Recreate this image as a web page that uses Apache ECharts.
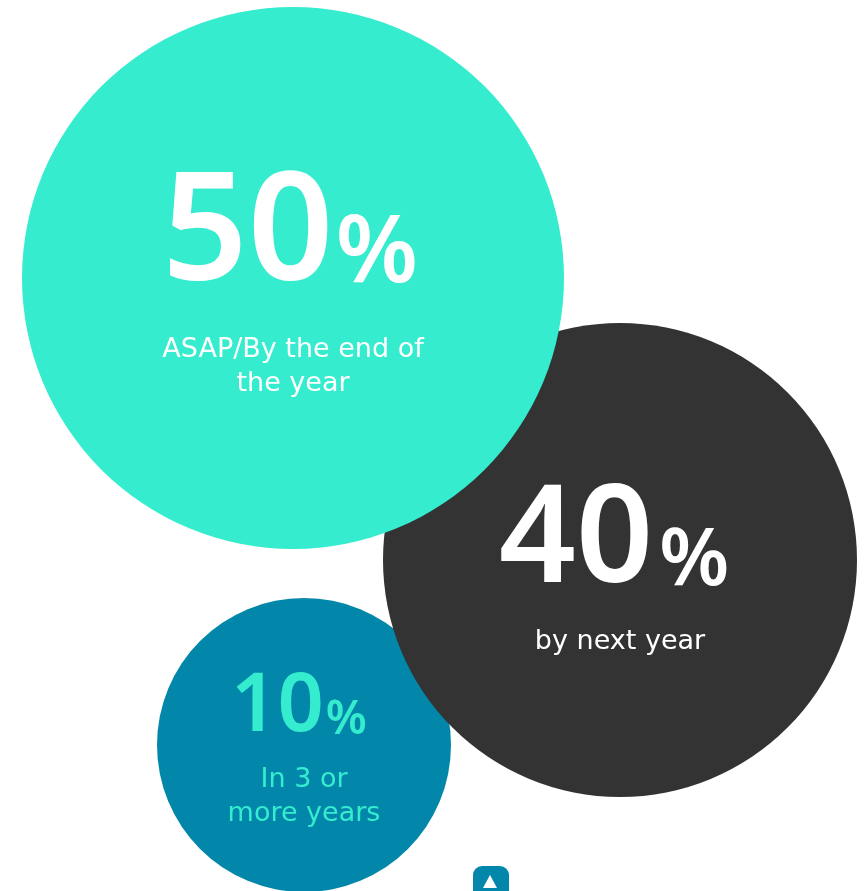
<!DOCTYPE html>
<html>
<head>
<meta charset="utf-8">
<script src="https://cdn.jsdelivr.net/npm/echarts@6/dist/echarts.min.js"></script>
<style>
  html, body { margin: 0; padding: 0; background: #ffffff; }
  #chart { width: 865px; height: 891px; }
</style>
</head>
<body>
<div id="chart"></div>
<script>
// ---- data ----
const categories = ['ASAP/By the end of the year', 'By next year', 'In 3 or more years'];
const shares = [50, 40, 10];
const descLines = [['ASAP/By the end of', 'the year'], ['by next year'], ['In 3 or', 'more years']];

// ---- layout (positions / sizes in pixel-space units of the hidden axes) ----
const layoutX = [293, 620, 304];
const layoutY = [278, 560, 745];
const layoutR = [271, 237, 147];
const labelShiftY = [14, 17, 10];
const fills = ['#35ECCF', '#333333', '#0287AB'];
const textColors = ['#ffffff', '#ffffff', '#35ECCF'];
const numSizes = [150, 135, 81];
const pctSizes = [94, 80, 47];
const pctPadL = [2, 6, 2];
const pctPadR = [6, 12, 10];
const pctLift = [10, 9, 5];
const gaps = [20, 14, 14];
const descSize = 27;

const NUMFONT = '"Noto Sans", Lato, sans-serif';
const DESCFONT = '"DejaVu Sans", "Noto Sans", sans-serif';

// draw order: smallest (bottom) first, largest teal on top
const order = [2, 1, 0];

const seriesList = order.map(function (i, k) {
  return {
    type: 'scatter',
    z: 2 + k,
    symbol: 'circle',
    symbolSize: layoutR[i] * 2,
    itemStyle: { color: fills[i], opacity: 1 },
    emphasis: { disabled: true },
    silent: true,
    label: {
      show: true,
      position: 'inside',
      align: 'center',
      verticalAlign: 'middle',
      offset: [0, labelShiftY[i]],
      formatter: function () {
        const d = descLines[i].map(function (l) { return '{desc|' + l + '}'; }).join('\n');
        return '{num|' + shares[i] + '}{pct|%}\n{gap|}\n' + d;
      },
      rich: {
        num: {
          fontFamily: NUMFONT, fontSize: numSizes[i], fontWeight: 600,
          color: textColors[i], lineHeight: numSizes[i] * 0.86, verticalAlign: 'bottom'
        },
        pct: {
          fontFamily: NUMFONT, fontSize: pctSizes[i], fontWeight: 600,
          color: textColors[i], lineHeight: pctSizes[i] * 0.6, verticalAlign: 'bottom',
          padding: [0, pctPadR[i], pctLift[i], pctPadL[i]]
        },
        gap: { fontSize: 10, lineHeight: gaps[i] },
        desc: {
          fontFamily: DESCFONT, fontSize: descSize, fontWeight: 'normal',
          color: textColors[i], lineHeight: 34, align: 'center'
        }
      }
    },
    data: [[layoutX[i], layoutY[i], shares[i], categories[i]]]
  };
});

const chart = echarts.init(document.getElementById('chart'), null, { renderer: 'canvas' });
chart.setOption({
  animation: false,
  backgroundColor: '#ffffff',
  grid: { left: 0, right: 0, top: 0, bottom: 0 },
  xAxis: { type: 'value', min: 0, max: 865, show: false },
  yAxis: { type: 'value', min: 0, max: 891, inverse: true, show: false },
  graphic: [
    {
      type: 'rect', z: 100,
      shape: { x: 473, y: 866, width: 36, height: 40, r: 9 },
      style: { fill: '#0287AB' }
    },
    {
      type: 'polygon', z: 101,
      shape: { points: [[490, 875], [483, 888], [497, 888]] },
      style: { fill: '#ffffff' }
    }
  ],
  series: seriesList
});
</script>
</body>
</html>
